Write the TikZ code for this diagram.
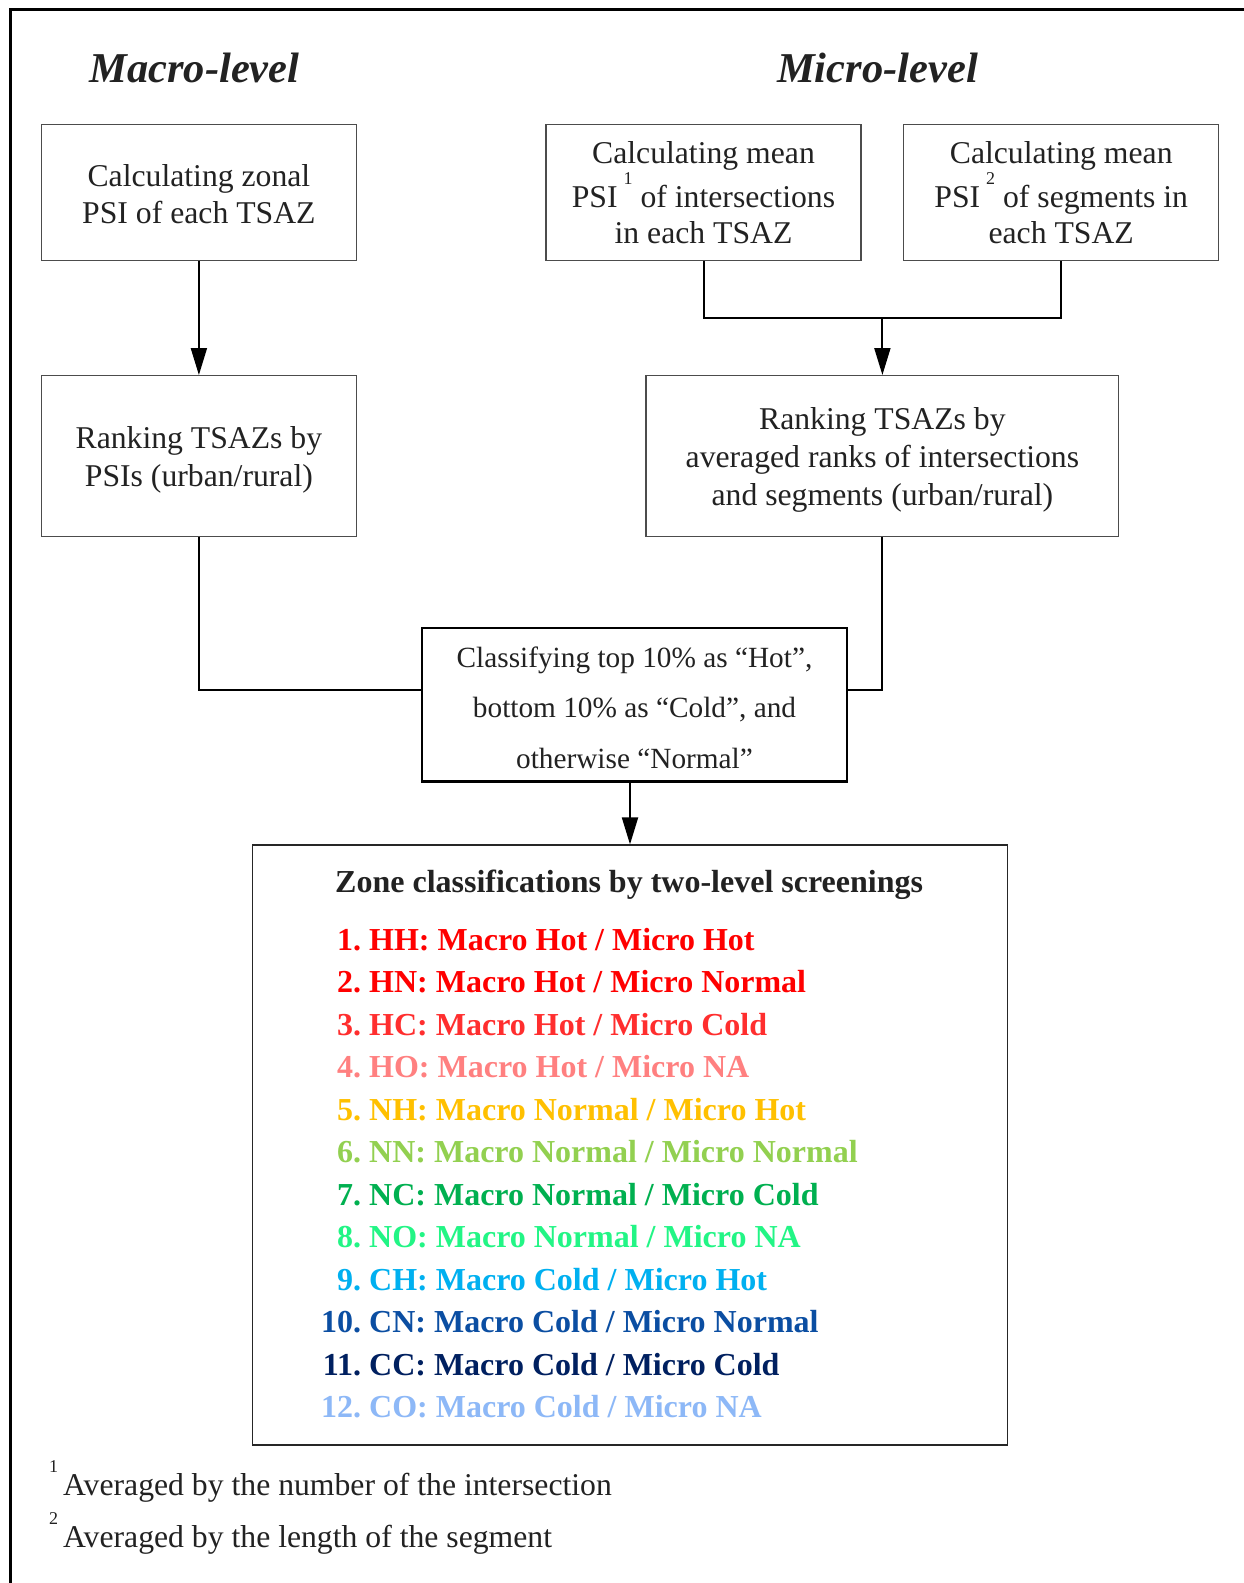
\documentclass[tikz,border=0pt]{standalone}
\usepackage{fontspec}
\setmainfont{Liberation Serif}
\usetikzlibrary{arrows.meta}

\definecolor{ink}{HTML}{222222}
\definecolor{zc1}{HTML}{FF0000}
\definecolor{zc2}{HTML}{FF0000}
\definecolor{zc3}{HTML}{FF2E2E}
\definecolor{zc4}{HTML}{FF8080}
\definecolor{zc5}{HTML}{FFC000}
\definecolor{zc6}{HTML}{92D050}
\definecolor{zc7}{HTML}{00B050}
\definecolor{zc8}{HTML}{22F585}
\definecolor{zc9}{HTML}{00B0F0}
\definecolor{zc10}{HTML}{0B4EA2}
\definecolor{zc11}{HTML}{002060}
\definecolor{zc12}{HTML}{8DB8F7}

% small raised footnote mark
\newcommand\supnum[1]{\smash{\raisebox{0.72em}{\fontsize{18}{18}\selectfont #1}}}
% invisible strut that pushes a box's first line down a little
\newcommand\lowerby[1]{\rule{0pt}{#1}}

\begin{document}
\begin{tikzpicture}[x=1pt,y=-1pt,
  box/.style={draw=black!70, line width=1.2pt, align=center, text=ink,
    inner sep=0pt, font=\fontsize{31.7}{37.5}\selectfont},
  heading/.style={font=\fontsize{42.5}{45}\selectfont\bfseries\itshape, text=ink, inner sep=0pt},
  conn/.style={line width=2pt, draw=black},
  arr/.style={conn, -{Triangle[length=27pt,width=16pt]}},
  item/.style={anchor=base west, inner sep=0pt, font=\fontsize{32}{38}\selectfont\bfseries},
  note/.style={anchor=base west, inner sep=0pt, text=ink, font=\fontsize{31.7}{38}\selectfont}
]
\useasboundingbox (0,0) rectangle (1243,1583);
\fill[white] (0,0) rectangle (1243,1583);

% outer frame
\draw[line width=3pt] (10,1600) -- (10,9) -- (1260,9);

% headings
\node[heading] (macro) at (194.5,67.6) {Macro-level};
\node[heading] (micro) at (877.5,67.6) {Micro-level};

% process boxes
\node[box, minimum width=315pt, minimum height=136.3pt, font=\fontsize{31.7}{37.4}\selectfont]
  (zonal) at (198.9,192.4) {\lowerby{26pt}Calculating zonal\\PSI of each TSAZ};
\node[box, minimum width=315pt, minimum height=136.3pt, font=\fontsize{31.7}{40}\selectfont]
  (meanint) at (703.5,192.4) {Calculating mean\\[4pt]PSI\kern6pt\supnum{1}\ of intersections\\[-4pt]in each TSAZ};
\node[box, minimum width=315pt, minimum height=136.3pt, font=\fontsize{31.7}{40}\selectfont]
  (meanseg) at (1061.2,192.4) {Calculating mean\\[4pt]PSI\kern6pt\supnum{2}\ of segments in\\[-4pt]each TSAZ};
\node[box, minimum width=315pt, minimum height=160.6pt]
  (rankmacro) at (198.9,455.9) {\lowerby{30pt}Ranking TSAZs by\\PSIs (urban/rural)};
\node[box, minimum width=472.7pt, minimum height=160.6pt, font=\fontsize{31.7}{37.8}\selectfont]
  (rankmicro) at (882.4,455.9) {\lowerby{30pt}Ranking TSAZs by\\averaged ranks of intersections\\and segments (urban/rural)};
\node[box, draw=black, line width=2.2pt, minimum width=425pt, minimum height=153.5pt,
  font=\fontsize{29.3}{50.5}\selectfont]
  (classify) at (634.5,704.8) {\lowerby{26pt}Classifying top 10\% as “Hot”,\\bottom 10\% as “Cold”, and\\otherwise “Normal”};
\node[box, draw=black!85, minimum width=755.3pt, minimum height=600pt]
  (zones) at (630,1145) {};

% connectors
\coordinate (jtop) at (882.4,318.3);
\coordinate (jrow) at (630,690);
\draw[arr] (zonal.south) -- (rankmacro.north);
\draw[conn] (meanint.south) |- (jtop) -| (meanseg.south);
\draw[arr] (jtop) -- (rankmicro.north);
\draw[conn] (rankmacro.south) |- (classify.west |- jrow);
\draw[conn] (rankmicro.south) |- (classify.east |- jrow);
\draw[arr] (zones.north |- classify.south) -- (zones.north);

% zone classification list
\node[item, text=ink] (ztitle) at (335,892.5) {Zone classifications by two-level screenings};
\foreach \n/\yy/\txt in {
  1/950.0/{HH: Macro Hot / Micro Hot},
  2/992.5/{HN: Macro Hot / Micro Normal},
  3/1035.0/{HC: Macro Hot / Micro Cold},
  4/1077.5/{HO: Macro Hot / Micro NA},
  5/1120.1/{NH: Macro Normal / Micro Hot},
  6/1162.6/{NN: Macro Normal / Micro Normal},
  7/1205.1/{NC: Macro Normal / Micro Cold},
  8/1247.6/{NO: Macro Normal / Micro NA},
  9/1290.1/{CH: Macro Cold / Micro Hot},
  10/1332.6/{CN: Macro Cold / Micro Normal},
  11/1375.1/{CC: Macro Cold / Micro Cold},
  12/1417.6/{CO: Macro Cold / Micro NA}}
  \node[item, text=zc\n] (z\n) at (321,\yy) {\makebox[40pt][r]{\n.}\ \txt};

% footnotes
\node[note] (fn1) at (49,1495) {\supnum{1}\kern5pt Averaged by the number of the intersection};
\node[note] (fn2) at (49,1547) {\supnum{2}\kern5pt Averaged by the length of the segment};
\end{tikzpicture}
\end{document}
